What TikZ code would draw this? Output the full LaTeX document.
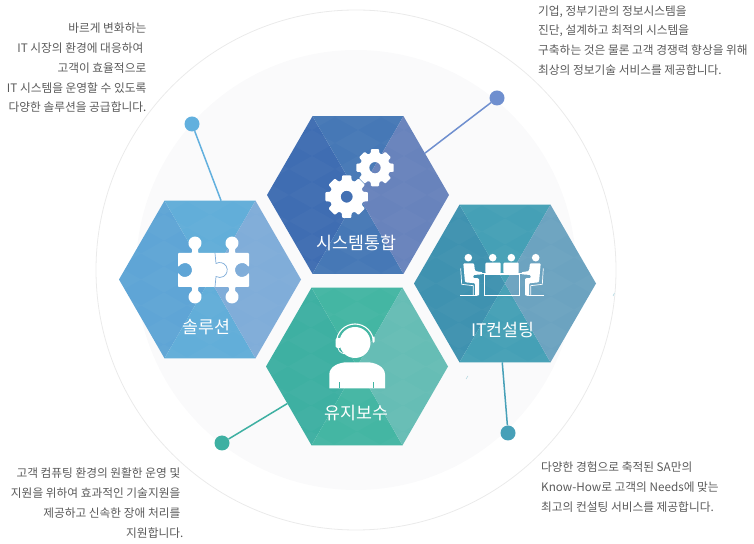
\documentclass[tikz,border=0pt]{standalone}
\usepackage{fontspec}
\setmainfont{Noto Sans CJK KR}
\usetikzlibrary{shapes.geometric}
\definecolor{sysleft}{HTML}{3F6DB2}
\definecolor{systop}{HTML}{4678B6}
\definecolor{sysright}{HTML}{6883BC}
\definecolor{sysdot}{HTML}{6F8FCF}
\definecolor{solleft}{HTML}{5FA5D6}
\definecolor{soltop}{HTML}{62AED9}
\definecolor{solright}{HTML}{80ADD9}
\definecolor{soldot}{HTML}{62B0DE}
\definecolor{itcleft}{HTML}{3F92B0}
\definecolor{itctop}{HTML}{45A0B6}
\definecolor{itcright}{HTML}{6CA3C0}
\definecolor{itcdot}{HTML}{47A0B8}
\definecolor{mntleft}{HTML}{3EB0A2}
\definecolor{mnttop}{HTML}{44B6A3}
\definecolor{mntright}{HTML}{66BDB5}
\definecolor{mntdot}{HTML}{3EB0A2}
\definecolor{ringgray}{HTML}{EAEAEA}
\definecolor{discgray}{HTML}{FAFAFB}
\definecolor{bodytext}{HTML}{5A5A5A}
\tikzset{
  hexcell/.style={regular polygon, regular polygon sides=6, minimum size=182pt, inner sep=0pt, outer sep=0pt},
  enddot/.style={circle, minimum size=15pt, inner sep=0pt, fill=#1},
  wire/.style={line width=1.5pt, draw=#1},
  hexlabel/.style={text=white, font=\fontsize{17.3}{20}\selectfont},
  remark/.style={text=bodytext, inner sep=0pt, font=\fontsize{11.7}{19.8}\selectfont},
}
% gear outline: centre, tip radius, root radius, hole radius
\newcommand{\gearicon}[5]{
  \fill[white, even odd rule, rounded corners=0.8pt, shift={(#1,#2)}]
    (-12:#3)
    \foreach \a in {0,45,...,315} {
      -- ({\a+12}:#3) -- ({\a+17}:#4) -- ({\a+28}:#4) -- ({\a+33}:#3)
    } (0,0) circle (#5);
}
\begin{document}
\begin{tikzpicture}[x=1pt,y=1pt]
\useasboundingbox (0,0) rectangle (754,543);
\fill[discgray] (356,273) circle (220);
\draw[ringgray, line width=0.8pt] (356,273) circle (260);
\draw[itctop!45, line width=0.5pt] (466,164) -- (468,167);
\draw[itctop!45, line width=0.5pt] (613,247) -- (614.5,250);

% the end dots and the hexagons
\node[enddot=soldot] (soldot) at (192,419) {};
\node[enddot=sysdot] (sysdot) at (497,445) {};
\node[enddot=mntdot] (mntdot) at (222,100) {};
\node[enddot=itcdot] (itcdot) at (508,110) {};
\foreach \nm/\cx/\cy in {sys/358/348, sol/210/263.5, itc/505/259.5, mnt/357/176.5} {
  \node[hexcell] (\nm) at (\cx,\cy) {};
  \fill[\nm left] (\nm.corner 2) -- (\nm.corner 3) -- (\nm.corner 4) -- (\nm.center) -- cycle;
  \fill[\nm top] (\nm.corner 2) -- (\nm.corner 1) -- (\nm.center) -- cycle;
  \fill[\nm top] (\nm.corner 4) -- (\nm.corner 5) -- (\nm.center) -- cycle;
  \fill[\nm right] (\nm.corner 5) -- (\nm.corner 6) -- (\nm.corner 1) -- (\nm.center) -- cycle;
  \begin{scope}
    \clip (\nm.corner 1) -- (\nm.corner 2) -- (\nm.corner 3) -- (\nm.corner 4) -- (\nm.corner 5) -- (\nm.corner 6) -- cycle;
    \foreach \i in {-2,...,2} {
      \foreach \j in {-3,...,3} {
        \fill[white, opacity=0.025, shift={(\cx+\i*46,\cy+\j*26)}] (-23,0) -- (0,13) -- (23,0) -- (0,-13) -- cycle;
      }
    }
  \end{scope}
}
\draw[wire=soldot] (soldot) -- (sol.82);
\draw[wire=sysdot] (sysdot) -- (sys.32);
\draw[wire=mntdot] (mntdot) -- (mnt.208.5);
\draw[wire=itcdot] (itcdot) -- (itc.268.5);

% gears
\gearicon{346.7}{346.3}{21.7}{17}{6}
\gearicon{375}{375.3}{19}{15}{5.7}

% puzzle
\begin{scope}[shift={(214,273)}]
  \fill[white, rounded corners=0.8pt] (-36,17) -- (-22,17) -- (-22,21.2)
    arc[start angle=242.5, end angle=-62.5, radius=6.5] -- (-16,17) -- (15,17) -- (15,21.2)
    arc[start angle=242.5, end angle=-62.5, radius=6.5] -- (21,17) -- (35,17) -- (35,3.5) -- (34.06,3.5)
    arc[start angle=30, end angle=330, radius=7] -- (35,-3.5) -- (35,-17) -- (21,-17) -- (21,-21.2)
    arc[start angle=62.5, end angle=-242.5, radius=6.5] -- (15,-17) -- (-16,-17) -- (-16,-21.2)
    arc[start angle=62.5, end angle=-242.5, radius=6.5] -- (-22,-17) -- (-36,-17) -- (-36,-3.5) -- (-35.06,-3.5)
    arc[start angle=-150, end angle=150, radius=7] -- (-36,3.5) -- cycle;
  \draw[solright, line width=0.7pt] (1,17) -- (2,6.5) arc[start angle=120, end angle=-120, radius=7.5] -- (1,-17);
\end{scope}

% four people at a table
\begin{scope}[shift={(502,259.5)}]
  \foreach \s in {1,-1} {
    \begin{scope}[xscale=\s]
      \fill[white] (-33.7,25.8) circle (3.8);
      \fill[white, rounded corners=1pt] (-38.7,20.2) -- (-28,20.2) -- (-27,12.5) -- (-19.3,11.2) -- (-19.3,9.2)
        -- (-28.7,8.5) -- (-28.7,5.4) -- (-23,5.2) -- (-23,-12.2) -- (-27,-12.2) -- (-27,0.2) -- (-37,1.2) -- cycle;
      \draw[white, line width=0.7pt] (-41.3,15.2) -- (-40.3,-0.8) -- (-28.7,-2.2) -- (-28.7,-12.2);
      \draw[white, line width=0.7pt] (-42,-12.2) -- (-25,-12.2);
      \fill[white] (-9.3,25.8) circle (3.8);
      \fill[white, rounded corners=1pt] (-16.7,10.2) -- (-16.7,20.8) -- (-1.3,20.8) -- (-1.3,10.2) -- cycle;
    \end{scope}
  }
  \fill[white] (-20,9) rectangle (20.5,10.3);
  \draw[white, line width=0.8pt] (-17.3,9.2) rectangle (17.3,-12.2);
\end{scope}

% headset person
\begin{scope}[shift={(357,176.5)}]
  \fill[white] (-2,24) circle (15.5);
  \draw[white, line width=1.1pt] (16.5,24) arc[start angle=0, end angle=180, radius=18.5];
  \fill[white, rounded corners=1.5pt] (-21.5,18.5) rectangle (-16,28.5);
  \fill[white, rounded corners=1pt] (15.5,24) rectangle (17.5,30);
  \draw[white, line width=0.8pt] (-19,18.5) .. controls (-18,14) and (-14,12.5) .. (-10,12.5);
  \fill[white] (-27.7,-21.8) -- (-27.7,-8) .. controls (-27.7,0) and (-18,4.2) .. (-10,4.2) -- (10,4.2)
    .. controls (18,4.2) and (28,0) .. (28,-8) -- (28,-21.8) -- cycle;
  \draw[mntleft, line width=0.7pt] (-18,-16) -- (-18,-21.8);
  \draw[mnttop, line width=0.7pt] (16.3,-16) -- (16.3,-21.8);
\end{scope}

\node[hexlabel] (syslabel) at (356.7,300.3) {시스템통합};
\node[hexlabel] (sollabel) at (206.7,216.3) {솔루션};
\node[hexlabel] (itclabel) at (502.7,213) {IT컨설팅};
\node[hexlabel] (mntlabel) at (356.7,129.7) {유지보수};

% remarks round the ring
\node[remark, align=right, anchor=east] (solnote) at (146.5,475) {바르게 변화하는\\IT 시장의 환경에 대응하여\kern3pt\\고객이 효율적으로\\IT 시스템을 운영할 수 있도록\\다양한 솔루션을 공급합니다.};
\node[remark, align=left, anchor=west] (sysnote) at (538,502.5) {기업, 정부기관의 정보시스템을\\진단, 설계하고 최적의 시스템을\\구축하는 것은 물론 고객 경쟁력 향상을 위해\\최상의 정보기술 서비스를 제공합니다.};
\node[remark, align=right, anchor=east] (mntnote) at (183.5,40) {고객 컴퓨팅 환경의 원활한 운영 및\kern3pt\\지원을 위하여 효과적인 기술지원을\kern3pt\\제공하고 신속한 장애 처리를\kern3pt\\지원합니다.};
\node[remark, align=left, anchor=west] (itcnote) at (541,56) {다양한 경험으로 축적된 SA만의\\Know-How로 고객의 Needs에 맞는\\최고의 컨설팅 서비스를 제공합니다.};
\end{tikzpicture}
\end{document}
